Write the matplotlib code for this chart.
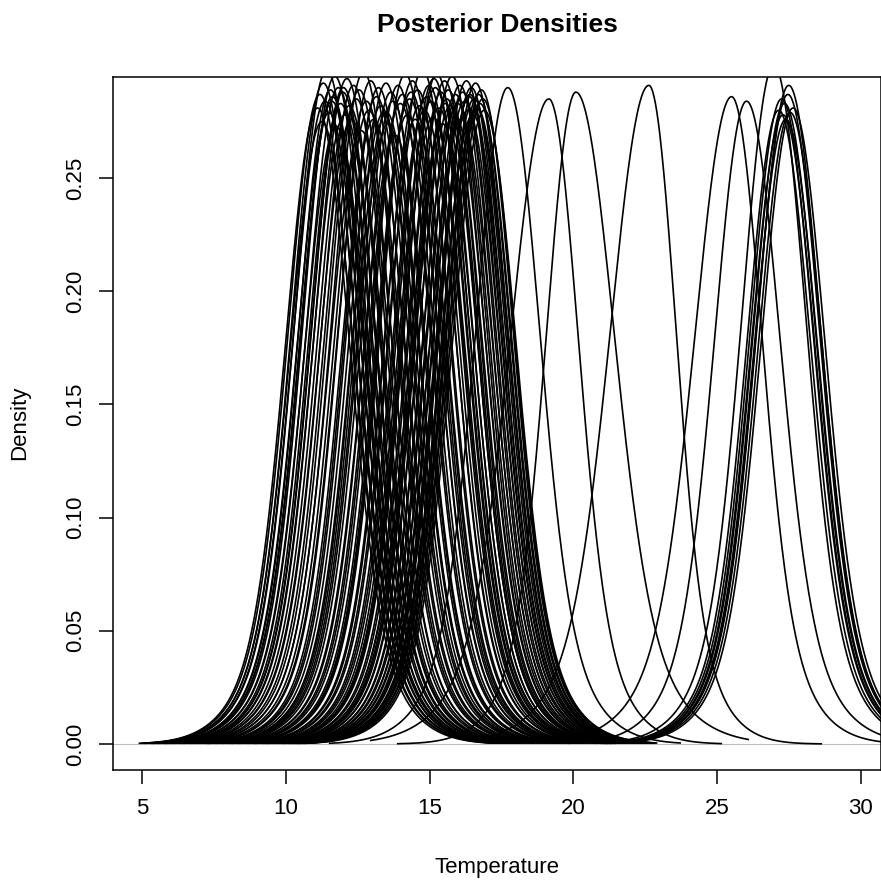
import numpy as np
import matplotlib
matplotlib.use("Agg")
import matplotlib.pyplot as plt

plt.rcParams['font.family'] = ['Liberation Sans', 'DejaVu Sans']

# posterior mode (centre) and peak height of each density curve
main_centers = [11.10, 11.18, 11.25, 11.30, 11.36, 11.42, 11.50, 11.55, 11.62, 11.70,
                11.75, 11.82, 11.90, 11.98, 12.05, 12.12, 12.20, 12.28, 12.35, 12.45,
                12.55, 12.62, 12.70, 12.80, 12.88, 12.95, 13.05, 13.15, 13.22, 13.30,
                13.40, 13.48, 13.55, 13.65, 13.72, 13.80, 13.90, 13.98, 14.05, 14.15,
                14.22, 14.30, 14.40, 14.50, 14.58, 14.65, 14.75, 14.82, 14.90, 14.98,
                15.05, 15.12, 15.20, 15.25, 15.32, 15.40, 15.45, 15.52, 15.60, 15.65,
                15.72, 15.78, 15.85, 15.90, 15.98, 16.05, 16.10, 16.15, 16.22, 16.28,
                16.32, 16.38, 16.45, 16.50, 16.55, 16.60, 16.65, 16.70, 16.75, 16.80,
                16.85, 16.90, 11.60, 12.00, 13.50, 14.35, 15.15, 15.55, 16.40, 16.62]
main_peaks = [0.281, 0.287, 0.275, 0.292, 0.284, 0.298, 0.279, 0.289, 0.286, 0.295,
              0.273, 0.290, 0.283, 0.288, 0.278, 0.294, 0.282, 0.276, 0.291, 0.285,
              0.289, 0.271, 0.297, 0.284, 0.280, 0.293, 0.276, 0.286, 0.290, 0.282,
              0.279, 0.292, 0.274, 0.288, 0.284, 0.269, 0.291, 0.283, 0.287, 0.296,
              0.278, 0.285, 0.293, 0.276, 0.289, 0.282, 0.298, 0.280, 0.286, 0.291,
              0.284, 0.277, 0.290, 0.296, 0.281, 0.288, 0.274, 0.293, 0.285, 0.289,
              0.282, 0.295, 0.279, 0.287, 0.283, 0.291, 0.276, 0.288, 0.284, 0.293,
              0.280, 0.286, 0.290, 0.278, 0.285, 0.292, 0.281, 0.287, 0.283, 0.289,
              0.285, 0.280, 0.284, 0.290, 0.279, 0.288, 0.294, 0.283, 0.287, 0.281]
right_centers = [17.72, 19.15, 20.09, 22.63, 25.51, 26.03,
                 26.98, 27.15, 27.25, 27.30, 27.35, 27.40, 27.47, 27.50, 27.55, 27.65]
right_peaks = [0.290, 0.285, 0.288, 0.291, 0.286, 0.284,
               0.300, 0.280, 0.285, 0.278, 0.283, 0.276, 0.287, 0.291, 0.279, 0.281]
# spread of the left / right flank relative to a plain curve (shoulders)
right_left_k = [1.00, 1.20, 0.92, 1.20, 1.15, 1.00, 1.0, 1.0, 1.0, 1.0, 1.0, 1.0, 1.0, 1.0, 1.0, 1.0]
right_right_k = [1.00, 0.92, 1.20, 0.85, 0.95, 1.05, 1.0, 1.0, 1.0, 1.0, 1.0, 1.0, 1.0, 1.0, 1.0, 1.0]

centers = main_centers + right_centers
peaks = main_peaks + right_peaks
left_k = [1.0]*len(main_centers) + right_left_k
right_k = [1.0]*len(main_centers) + right_right_k

fig = plt.figure(figsize=(8.81, 8.83), dpi=100)
ax = fig.add_axes([113/881, 1-770/883, 768/881, 693/883])

ax.axhline(0, color='#BEBEBE', lw=0.8, zorder=1)
for c, p, kl, kr in zip(centers, peaks, left_k, right_k):
    x = np.linspace(c-6.2, c+6.0, 500)
    k = np.where(x < c, kl, kr)
    d = (x-c)/k
    y = p*(0.78*np.exp(-0.5*(d/1.05)**2) + 0.22*np.exp(-0.5*(d/1.9)**2))
    ax.plot(x, y, color='black', lw=1.2, zorder=2)

ax.set_xlim(3.98, 30.71)
ax.set_ylim(-0.0115, 0.2947)
ax.set_xticks([5, 10, 15, 20, 25, 30])
ax.set_yticks([0.0, 0.05, 0.10, 0.15, 0.20, 0.25])
ax.set_yticklabels(['0.00', '0.05', '0.10', '0.15', '0.20', '0.25'], rotation=90, va='center')
ax.tick_params(axis='both', labelsize=16, length=10, width=1.1, pad=10)
ax.tick_params(axis='y', pad=9)
for s in ax.spines.values():
    s.set_linewidth(1.1)

fig.text(497/881, 1-32/883, 'Posterior Densities', ha='center', va='baseline',
         fontsize=19, fontweight='bold')
fig.text(497/881, 1-873/883, 'Temperature', ha='center', va='baseline', fontsize=16)
fig.text(20/881, 1-423/883, 'Density', ha='center', va='center', rotation=90, fontsize=16)

fig.savefig('out.png', dpi=100)
